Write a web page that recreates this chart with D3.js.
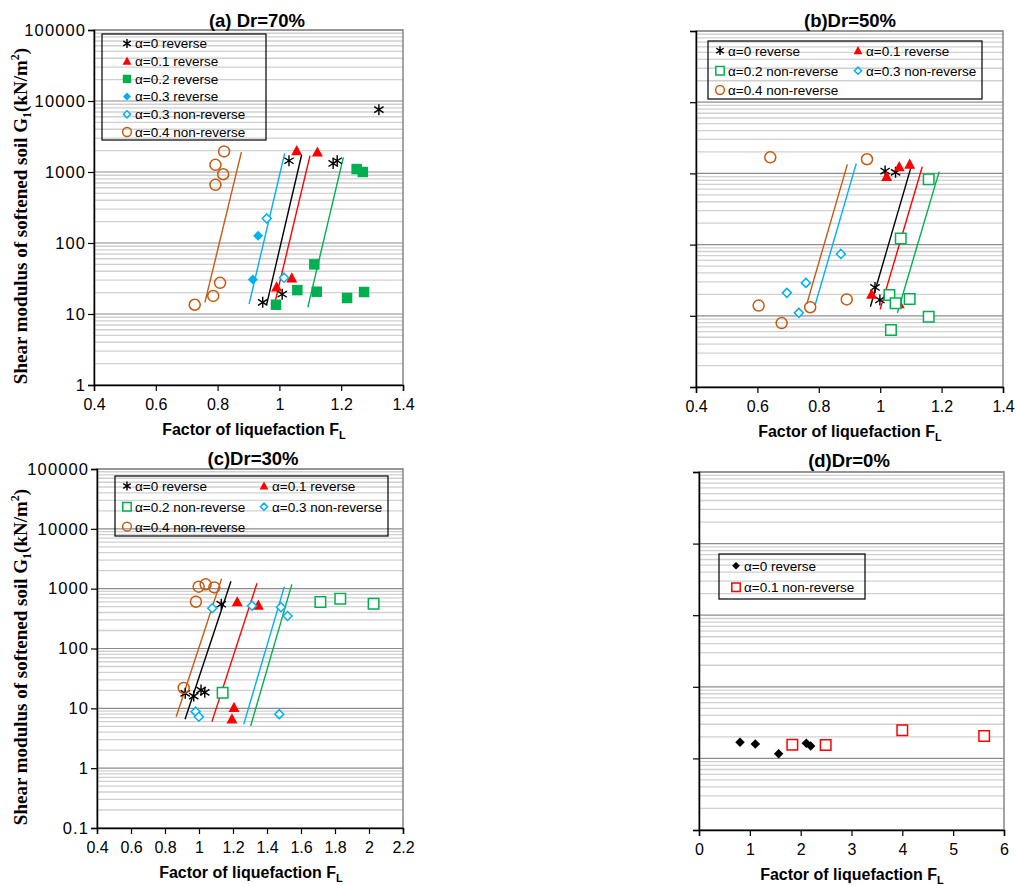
<!DOCTYPE html>
<html>
<head>
<meta charset="utf-8">
<script src="https://cdn.jsdelivr.net/npm/d3@7"></script>
<style>
  body { margin: 0; background: #fff; }
  svg text { font-family: "Liberation Sans", Arial, sans-serif; fill: #000; }
</style>
</head>
<body>
<svg id="chart" width="1016" height="886"></svg>
<script>
// ---- data (FL, G1) ----
// (a) Dr=70%
const a_rev0 = [[1.031, 1440], [1.174, 1320], [1.187, 1440], [1.322, 7550], [0.946, 14.6], [1.009, 19]];
const a_rev01 = [[1.056, 1990], [1.123, 1900], [1.040, 32], [0.991, 24]];
const a_rev02 = [[1.250, 1100], [1.270, 1000], [1.113, 50], [1.058, 21.7], [1.121, 20.6], [1.219, 16.8], [1.274, 20.4], [0.989, 13.5]];
const a_rev03 = [[0.931, 126], [0.914, 30.5]];
const a_non03 = [[0.959, 222], [1.015, 32.5]];
const a_non04 = [[0.821, 1950], [0.793, 1260], [0.818, 930], [0.793, 660], [0.808, 27.5], [0.786, 18], [0.726, 13.5]];
const a_lineOrange = [[0.759, 14.6], [0.877, 1900]];
const a_lineBlue = [[0.902, 13.8], [1.017, 1830]];
const a_lineBlack = [[0.959, 13.8], [1.072, 1750]];
const a_lineRed = [[0.983, 13.1], [1.099, 1700]];
const a_lineGreen = [[1.092, 12.4], [1.207, 1610]];

// (b) Dr=50%
const b_rev0 = [[1.016, 1080], [1.05, 1035], [0.983, 25], [0.999, 16.7]];
const b_rev01 = [[1.021, 900], [1.062, 1240], [1.096, 1340], [0.972, 20], [1.062, 14.7]];
const b_non02 = [[1.158, 830], [1.067, 122], [1.030, 19.6], [1.05, 15], [1.096, 17.2], [1.158, 9.7], [1.035, 6.3]];
const b_non03 = [[0.872, 74], [0.758, 29], [0.696, 21], [0.735, 11]];
const b_non04 = [[0.642, 1680], [0.957, 1580], [0.604, 13.9], [0.679, 7.9], [0.772, 13.2], [0.891, 17]];
const b_lineOrange = [[0.761, 14.7], [0.893, 1340]];
const b_lineBlue = [[0.788, 14.2], [0.922, 1370]];
const b_lineBlack = [[0.968, 13.4], [1.103, 1340]];
const b_lineRed = [[1.0, 12.3], [1.137, 1240]];
const b_lineGreen = [[1.056, 11], [1.192, 1060]];

// (c) Dr=30%
const c_rev0 = [[1.131, 550], [0.919, 17.8], [0.969, 16], [1.012, 20.2], [1.034, 18.5]];
const c_rev01 = [[1.225, 600], [1.349, 527], [1.206, 10.3], [1.194, 6.6]];
const c_non02 = [[1.714, 598], [1.831, 680], [2.027, 561], [1.139, 18.2]];
const c_non03 = [[1.078, 470], [1.312, 520], [1.482, 489], [1.521, 349], [0.98, 8.8], [0.999, 7.25], [1.472, 8.0]];
const c_non04 = [[0.998, 1080], [1.039, 1180], [1.09, 1050], [0.982, 605], [0.91, 21.9]];
const c_lineOrange = [[0.866, 7.25], [1.133, 1470]];
const c_lineBlack = [[0.918, 6.56], [1.188, 1330]];
const c_lineRed = [[1.076, 6.0], [1.341, 1230]];
const c_lineBlue = [[1.263, 5.4], [1.502, 1080]];
const c_lineGreen = [[1.304, 5.1], [1.546, 1180]];

// (d) Dr=0%
const d_rev0 = [[0.807, 1.68], [1.108, 1.59], [1.567, 1.16], [2.111, 1.63], [2.197, 1.49]];
const d_non01 = [[1.836, 1.55], [2.492, 1.54], [3.999, 2.47], [5.61, 2.06]];

// ticks
const xTicksAB = [0.4, 0.6, 0.8, 1, 1.2, 1.4];
const xTicksC = [0.4, 0.6, 0.8, 1, 1.2, 1.4, 1.6, 1.8, 2, 2.2];
const xTicksD = [0, 1, 2, 3, 4, 5, 6];
const yTicksA = [1, 10, 100, 1000, 10000, 100000];
const yTicksC = [0.1, 1, 10, 100, 1000, 10000, 100000];
const yTicksD = [0.1, 1, 10, 100, 1000, 10000];

const COL = { black: '#000', red: '#ff0000', green: '#00b050', blue: '#00b0f0', orange: '#c55a11' };

const svg = d3.select('#chart');

function markerPath(type, s) {
  const h = s / 2;
  switch (type) {
    case 'tri': return `M0,${-h * 1.05}L${h},${h * 0.8}L${-h},${h * 0.8}Z`;
    case 'sq': return `M${-h},${-h}H${h}V${h}H${-h}Z`;
    case 'dia': return `M0,${-h}L${h},0L0,${h}L${-h},0Z`;
    case 'star': return `M0,${-h}V${h}M${-h * 0.85},${-h * 0.55}L${h * 0.85},${h * 0.55}M${h * 0.85},${-h * 0.55}L${-h * 0.85},${h * 0.55}`;
  }
}

const MARK = {
  star:  { type: 'star', size: 11, open: true, sw: 1.4 },
  tri:   { type: 'tri', size: 11, open: false },
  sq:    { type: 'sq', size: 10.5, open: false },
  sqo:   { type: 'sq', size: 10.5, open: true, sw: 1.5 },
  dia:   { type: 'dia', size: 10, open: false },
  diao:  { type: 'dia', size: 9, open: true, sw: 1.5 },
  cir:   { type: 'cir', size: 11, open: true, sw: 1.5 },
  diaK:  { type: 'dia', size: 9.5, open: false }
};

function drawMarker(g, mk, color, x, y, k) {
  k = k || 1;
  const s = mk.size * k;
  if (mk.type === 'cir') {
    g.append('circle').attr('cx', x).attr('cy', y).attr('r', s / 2)
      .attr('fill', 'none').attr('stroke', color).attr('stroke-width', mk.sw);
    return;
  }
  g.append('path').attr('d', markerPath(mk.type, s))
    .attr('transform', `translate(${x},${y})`)
    .attr('fill', mk.open ? (mk.type === 'star' ? 'none' : '#fff') : color)
    .attr('stroke', mk.open ? color : 'none')
    .attr('stroke-width', mk.sw || 0);
}

function drawPanel(p) {
  const g = svg.append('g');
  const x = d3.scaleLinear().domain(p.xDomain).range([p.x0, p.x1]);
  const y = d3.scaleLog().domain(p.yDomain).range([p.y1, p.y0]);

  // minor + major gridlines
  const dec0 = Math.round(Math.log10(p.yDomain[0]));
  const dec1 = Math.round(Math.log10(p.yDomain[1]));
  const minors = [];
  for (let d = dec0; d < dec1; d++) {
    for (let m = 2; m <= 9; m++) minors.push(m * Math.pow(10, d));
  }
  g.selectAll('.minor').data(minors).enter().append('line')
    .attr('x1', p.x0).attr('x2', p.x1)
    .attr('y1', d => y(d)).attr('y2', d => y(d))
    .attr('stroke', '#d0d0d0').attr('stroke-width', 1.3);
  g.selectAll('.major').data(p.yTicks).enter().append('line')
    .attr('x1', p.x0).attr('x2', p.x1)
    .attr('y1', d => y(d)).attr('y2', d => y(d))
    .attr('stroke', '#8c8c8c').attr('stroke-width', 1.2);

  // frame
  g.append('rect').attr('x', p.x0).attr('y', p.y0)
    .attr('width', p.x1 - p.x0).attr('height', p.y1 - p.y0)
    .attr('fill', 'none').attr('stroke', '#868686').attr('stroke-width', 1.5);

  // axes
  const xAxis = d3.axisBottom(x).tickValues(p.xTicks).tickSizeOuter(0).tickSize(6)
    .tickFormat(d => String(+d.toFixed(1)));
  const gx = g.append('g').attr('transform', `translate(0,${p.y1})`).call(xAxis);
  gx.select('.domain').attr('stroke', '#000').attr('stroke-width', 1.5);
  gx.selectAll('.tick line').attr('stroke', '#000').attr('stroke-width', 1.2);
  gx.selectAll('.tick text').attr('font-size', 16).attr('dy', 0).attr('y', 25)
    .attr('font-family', '"Liberation Sans", Arial, sans-serif').attr('fill', '#000');

  const yAxis = d3.axisLeft(y).tickValues(p.yTicks).tickSizeOuter(0).tickSize(6)
    .tickFormat(d => p.yLabels ? String(d) : '');
  const gy = g.append('g').attr('transform', `translate(${p.x0},0)`).call(yAxis);
  gy.select('.domain').attr('stroke', '#000').attr('stroke-width', 1.5);
  gy.selectAll('.tick line').attr('stroke', '#000').attr('stroke-width', 1.2);
  gy.selectAll('.tick text').attr('font-size', 16.5).attr('x', -8)
    .attr('letter-spacing', 1.1)
    .attr('font-family', '"Liberation Sans", Arial, sans-serif').attr('fill', '#000');

  // fitted lines
  p.lines.forEach(l => {
    g.append('line')
      .attr('x1', x(l.data[0][0])).attr('y1', y(l.data[0][1]))
      .attr('x2', x(l.data[1][0])).attr('y2', y(l.data[1][1]))
      .attr('stroke', l.color).attr('stroke-width', 1.4);
  });

  // points
  p.series.forEach(s => {
    s.data.forEach(d => drawMarker(g, s.mark, s.color, x(d[0]), y(d[1])));
  });

  // legend
  const L = p.legend;
  g.append('rect').attr('x', L.x).attr('y', L.y).attr('width', L.w).attr('height', L.h)
    .attr('fill', 'none').attr('stroke', '#000').attr('stroke-width', 1.2);
  L.items.forEach(it => {
    const s = p.series[it.i];
    drawMarker(g, s.mark, s.color, it.mx, it.my, 0.8);
    g.append('text').attr('x', it.mx + 8).attr('y', it.my + 4.8)
      .attr('font-size', 13.5).text(s.label);
  });

  // title
  g.append('text').attr('x', p.titleX).attr('y', p.titleY)
    .attr('text-anchor', 'middle').attr('font-size', 18.5).attr('font-weight', 'bold')
    .text(p.title);

  // x title
  const xt = g.append('text').attr('x', p.xTitleX).attr('y', p.y1 + 50)
    .attr('text-anchor', 'middle').attr('font-size', 16).attr('font-weight', 'bold');
  xt.append('tspan').text('Factor of liquefaction F');
  xt.append('tspan').attr('font-size', 11).attr('dy', 4).text('L');

  // y title
  if (p.yTitleY) {
    const yt = g.append('text')
      .attr('transform', `translate(27,${p.yTitleY}) rotate(-90)`)
      .attr('text-anchor', 'middle').attr('font-size', 19).attr('font-weight', 'bold')
      .style('font-family', '"Liberation Serif", "Times New Roman", serif');
    yt.append('tspan').text('Shear modulus of softened soil  G');
    yt.append('tspan').attr('font-size', 12).attr('dy', 4).text('1');
    yt.append('tspan').attr('dy', -4).text('(kN/m');
    yt.append('tspan').attr('font-size', 12).attr('dy', -8).text('2');
    yt.append('tspan').attr('dy', 8).text(')');
  }
}

drawPanel({
  title: '(a) Dr=70%', titleX: 257, titleY: 27, xTitleX: 254, yTitleY: 216,
  x0: 94, x1: 403, y0: 30, y1: 385, xDomain: [0.4, 1.4], yDomain: [1, 100000],
  xTicks: xTicksAB, yTicks: yTicksA, yLabels: true,
  series: [
    { data: a_rev0, mark: MARK.star, color: COL.black, label: 'α=0 reverse' },
    { data: a_rev01, mark: MARK.tri, color: COL.red, label: 'α=0.1 reverse' },
    { data: a_rev02, mark: MARK.sq, color: COL.green, label: 'α=0.2 reverse' },
    { data: a_rev03, mark: MARK.dia, color: COL.blue, label: 'α=0.3 reverse' },
    { data: a_non03, mark: MARK.diao, color: COL.blue, label: 'α=0.3 non-reverse' },
    { data: a_non04, mark: MARK.cir, color: COL.orange, label: 'α=0.4 non-reverse' }
  ],
  lines: [
    { data: a_lineOrange, color: COL.orange }, { data: a_lineBlue, color: COL.blue },
    { data: a_lineBlack, color: COL.black }, { data: a_lineRed, color: COL.red },
    { data: a_lineGreen, color: COL.green }
  ],
  legend: { x: 102, y: 34, w: 164, h: 106, items: [
    { i: 0, mx: 127, my: 43.5 }, { i: 1, mx: 127, my: 61.2 }, { i: 2, mx: 127, my: 78.9 },
    { i: 3, mx: 127, my: 96.6 }, { i: 4, mx: 127, my: 114.3 }, { i: 5, mx: 127, my: 132 }
  ] }
});

drawPanel({
  title: '(b)Dr=50%', titleX: 850, titleY: 27, xTitleX: 850, yTitleY: null,
  x0: 696, x1: 1003, y0: 31, y1: 387, xDomain: [0.4, 1.4], yDomain: [1, 100000],
  xTicks: xTicksAB, yTicks: yTicksA, yLabels: false,
  series: [
    { data: b_rev0, mark: MARK.star, color: COL.black, label: 'α=0 reverse' },
    { data: b_rev01, mark: MARK.tri, color: COL.red, label: 'α=0.1 reverse' },
    { data: b_non02, mark: MARK.sqo, color: COL.green, label: 'α=0.2 non-reverse' },
    { data: b_non03, mark: MARK.diao, color: COL.blue, label: 'α=0.3 non-reverse' },
    { data: b_non04, mark: MARK.cir, color: COL.orange, label: 'α=0.4 non-reverse' }
  ],
  lines: [
    { data: b_lineOrange, color: COL.orange }, { data: b_lineBlue, color: COL.blue },
    { data: b_lineBlack, color: COL.black }, { data: b_lineRed, color: COL.red },
    { data: b_lineGreen, color: COL.green }
  ],
  legend: { x: 708, y: 41, w: 274, h: 58, items: [
    { i: 0, mx: 720, my: 50.7 }, { i: 1, mx: 858, my: 50.7 },
    { i: 2, mx: 720, my: 70.7 }, { i: 3, mx: 858, my: 70.7 },
    { i: 4, mx: 720, my: 90 }
  ] }
});

drawPanel({
  title: '(c)Dr=30%', titleX: 253, titleY: 465, xTitleX: 251, yTitleY: 657,
  x0: 97, x1: 403, y0: 469, y1: 828, xDomain: [0.4, 2.2], yDomain: [0.1, 100000],
  xTicks: xTicksC, yTicks: yTicksC, yLabels: true,
  series: [
    { data: c_rev0, mark: MARK.star, color: COL.black, label: 'α=0 reverse' },
    { data: c_rev01, mark: MARK.tri, color: COL.red, label: 'α=0.1 reverse' },
    { data: c_non02, mark: MARK.sqo, color: COL.green, label: 'α=0.2 non-reverse' },
    { data: c_non03, mark: MARK.diao, color: COL.blue, label: 'α=0.3 non-reverse' },
    { data: c_non04, mark: MARK.cir, color: COL.orange, label: 'α=0.4 non-reverse' }
  ],
  lines: [
    { data: c_lineOrange, color: COL.orange }, { data: c_lineBlack, color: COL.black },
    { data: c_lineRed, color: COL.red }, { data: c_lineBlue, color: COL.blue },
    { data: c_lineGreen, color: COL.green }
  ],
  legend: { x: 115, y: 476, w: 273, h: 60, items: [
    { i: 0, mx: 127, my: 486 }, { i: 1, mx: 264, my: 486 },
    { i: 2, mx: 127, my: 506.7 }, { i: 3, mx: 264, my: 506.7 },
    { i: 4, mx: 127, my: 526.7 }
  ] }
});

drawPanel({
  title: '(d)Dr=0%', titleX: 849, titleY: 467, xTitleX: 852, yTitleY: null,
  x0: 699, x1: 1004, y0: 472, y1: 830, xDomain: [0, 6], yDomain: [0.1, 10000],
  xTicks: xTicksD, yTicks: yTicksD, yLabels: false,
  series: [
    { data: d_rev0, mark: MARK.diaK, color: COL.black, label: 'α=0 reverse' },
    { data: d_non01, mark: MARK.sqo, color: COL.red, label: 'α=0.1 non-reverse' }
  ],
  lines: [],
  legend: { x: 719, y: 554, w: 146, h: 45, items: [
    { i: 0, mx: 736, my: 565.7 }, { i: 1, mx: 736, my: 587.3 }
  ] }
});
</script>
</body>
</html>
